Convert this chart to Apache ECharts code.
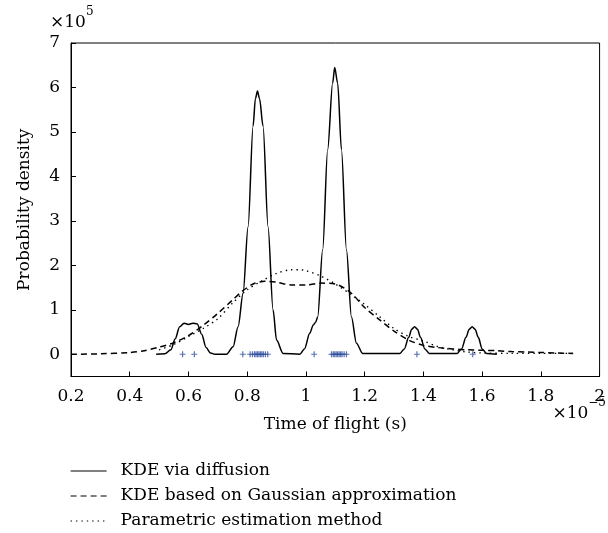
<!DOCTYPE html>
<html><head><meta charset="utf-8">
<script src="https://cdn.jsdelivr.net/npm/echarts@6/dist/echarts.min.js"></script>
<style>html,body{margin:0;padding:0;background:#fff}#c{width:608px;height:533px}</style>
</head><body><div id="c"></div>
<script>
// Time of flight (x 1e-5 s), probability density (x 1e5)
const diffX = [0.49,0.52,0.54,0.555,0.57,0.585,0.60,0.615,0.63,0.645,0.66,0.675,0.69,0.73,0.752,0.769,0.786,0.803,0.820,0.828,0.835,0.842,0.854,0.871,0.888,0.90,0.922,0.979,0.995,1.013,1.025,1.033,1.04,1.057,1.074,1.091,1.098,1.108,1.121,1.138,1.155,1.172,1.193,1.32,1.335,1.35,1.36,1.37,1.38,1.39,1.405,1.42,1.515,1.53,1.545,1.556,1.566,1.576,1.587,1.60,1.615,1.65];
const diffY = [0,0.01,0.1,0.35,0.62,0.70,0.67,0.70,0.68,0.45,0.15,0.03,0,0,0.17,0.62,1.37,2.87,5.13,5.75,5.92,5.75,5.13,2.87,1.0,0.32,0.02,0,0.12,0.47,0.66,0.72,0.84,2.35,4.6,6.1,6.45,6.1,4.6,2.35,0.84,0.25,0.02,0.02,0.12,0.38,0.56,0.62,0.56,0.38,0.12,0.02,0.02,0.12,0.38,0.56,0.62,0.56,0.38,0.12,0.02,0];
const gaussX = [0.2,0.3,0.4,0.45,0.5,0.55,0.6,0.65,0.7,0.75,0.78,0.82,0.86,0.9,0.95,1.0,1.05,1.1,1.15,1.2,1.25,1.3,1.35,1.4,1.45,1.5,1.55,1.6,1.65,1.7,1.75,1.8,1.85,1.91];
const gaussY = [0.0,0.01,0.04,0.08,0.16,0.26,0.42,0.65,0.92,1.22,1.40,1.58,1.64,1.62,1.56,1.56,1.60,1.58,1.40,1.05,0.78,0.52,0.32,0.20,0.15,0.12,0.10,0.09,0.08,0.06,0.05,0.04,0.03,0.02];
const paramX = [0.5,0.55,0.6,0.65,0.7,0.75,0.8,0.85,0.9,0.95,0.98,1.0,1.05,1.1,1.15,1.2,1.25,1.3,1.35,1.4,1.45,1.5,1.55,1.6,1.7,1.8,1.91];
const paramY = [0.1,0.22,0.40,0.58,0.80,1.15,1.45,1.65,1.82,1.90,1.90,1.88,1.76,1.58,1.36,1.12,0.85,0.58,0.40,0.30,0.17,0.10,0.05,0.03,0.02,0.02,0.02];
const sampleX = [0.58,0.62,0.785,0.81,0.818,0.825,0.83,0.835,0.84,0.845,0.85,0.855,0.862,0.87,1.028,1.087,1.093,1.098,1.103,1.108,1.113,1.118,1.123,1.13,1.138,1.378,1.568];
const yTicks = [0,1,2,3,4,5,6,7];
const seriesNames = ['KDE via diffusion','KDE based on Gaussian approximation','Parametric estimation method'];

const zip = (a,b) => a.map((v,i)=>[v,b[i]]);
const FONT = 'DejaVu Serif';
const chart = echarts.init(document.getElementById('c'), null, {renderer:'canvas'});
chart.setOption({
  animation:false,
  backgroundColor:'#fff',
  textStyle:{fontFamily:FONT,color:'#000'},
  grid:{left:71,right:8,top:43,bottom:156.5,show:true,borderColor:'#000',borderWidth:1,backgroundColor:'transparent'},
  xAxis:{type:'value',min:0.2,max:2,interval:0.2,
    name:'Time of flight (s)',nameLocation:'middle',nameGap:40,
    nameTextStyle:{fontFamily:FONT,fontSize:17,color:'#000'},
    axisLine:{show:true,onZero:false,lineStyle:{color:'#000',width:1}},
    axisTick:{show:true,inside:true,length:5,lineStyle:{color:'#000'}},
    axisLabel:{fontFamily:FONT,fontSize:17,color:'#000',margin:12,formatter:v=>String(+v.toFixed(1))},
    splitLine:{show:false}},
  yAxis:{type:'value',min:-0.5,max:7,
    name:'Probability density',nameLocation:'middle',nameGap:38,
    nameTextStyle:{fontFamily:FONT,fontSize:17,color:'#000'},
    axisLine:{show:true,onZero:false,lineStyle:{color:'#000',width:1}},
    axisTick:{show:true,inside:true,length:5,lineStyle:{color:'#000'},customValues:yTicks},
    axisLabel:{fontFamily:FONT,fontSize:17,color:'#000',margin:11,customValues:yTicks,formatter:v=>String(v)},
    splitLine:{show:false}},
  legend:{orient:'vertical',left:65,top:457,itemWidth:36,itemHeight:12,itemGap:7,height:72,
    data:seriesNames,
    itemStyle:{opacity:0},
    lineStyle:{width:1.2},
    textStyle:{fontFamily:FONT,fontSize:17,lineHeight:18,color:'#000',padding:[0,0,0,9]}},
  graphic:[
    {type:'text',left:50,top:6,style:{text:'{a|×10}{b|5}',rich:{a:{fontFamily:FONT,fontSize:17,fill:'#000',padding:[8,0,0,0]},b:{fontFamily:FONT,fontSize:12,fill:'#000',verticalAlign:'top'}}}},
    {type:'text',right:2,top:397,style:{text:'{a|×10}{b|−5}',rich:{a:{fontFamily:FONT,fontSize:17,fill:'#000',padding:[8,0,0,0]},b:{fontFamily:FONT,fontSize:12,fill:'#000',verticalAlign:'top'}}}}
  ],
  series:[
    {name:seriesNames[0],type:'line',data:zip(diffX,diffY),symbol:'none',smooth:0.3,smoothMonotone:'x',
      lineStyle:{color:'#000',width:1.5,type:'solid'},itemStyle:{color:'#000'}},
    {name:seriesNames[1],type:'line',data:zip(gaussX,gaussY),symbol:'none',smooth:0.3,
      lineStyle:{color:'#000',width:1.5,type:[6,4]},itemStyle:{color:'#000'}},
    {name:seriesNames[2],type:'line',data:zip(paramX,paramY),symbol:'none',smooth:0.3,
      lineStyle:{color:'#000',width:1.4,type:[1.4,4]},itemStyle:{color:'#000'}},
    {name:'samples',type:'scatter',data:sampleX.map(x=>[x,0]),symbol:'path://M0,5L10,5M5,0L5,10',symbolSize:6,
      itemStyle:{color:'none',borderColor:'#2f4f9f',borderWidth:1.2}}
  ]
});
</script></body></html>
